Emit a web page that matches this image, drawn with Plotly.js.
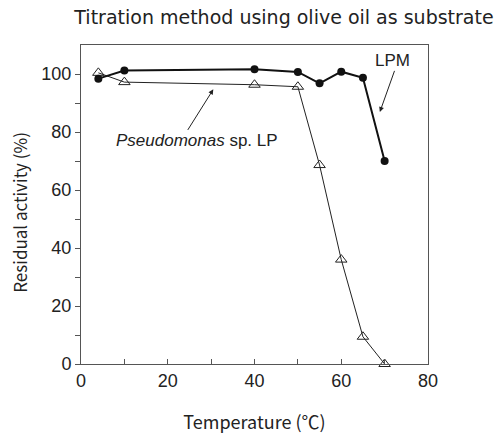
<!DOCTYPE html>
<html>
<head>
<meta charset="utf-8">
<script src="https://cdn.plot.ly/plotly-3.0.1.min.js"></script>
<style>html,body{margin:0;padding:0;background:#fff;}#chart{width:501px;height:437px;}</style>
</head>
<body>
<div id="chart"></div>
<script>
// Data
const temperature = [4, 10, 40, 50, 55, 60, 65, 70];
const lpmActivity = [98.4, 101.2, 101.6, 100.7, 96.8, 100.8, 98.7, 70.0];
const pseudomonasActivity = [100.4, 97.2, 96.3, 95.6, 68.6, 36.0, 9.4, 0.0];
const xTickVals = [0, 10, 20, 30, 40, 50, 60, 70, 80];
const xTickText = ['0', '', '20', '', '40', '', '60', '', '80'];
const yTickVals = [0, 10, 20, 30, 40, 50, 60, 70, 80, 90, 100];
const yTickText = ['0', '', '20', '', '40', '', '60', '', '80', '', '100'];

const axisColor = '#555';
const textColor = '#222';
const fontMain = '"Liberation Sans", Arial, sans-serif';
const fontTitle = '"Noto Sans CJK KR", "Liberation Sans", sans-serif';

const traces = [
  {
    x: temperature, y: pseudomonasActivity, type: 'scatter', mode: 'lines+markers',
    line: {color: '#222', width: 1},
    marker: {symbol: 'triangle-up-open', size: 10, color: '#222', line: {width: 1}},
    cliponaxis: false, showlegend: false
  },
  {
    x: temperature, y: lpmActivity, type: 'scatter', mode: 'lines+markers',
    line: {color: '#111', width: 2},
    marker: {symbol: 'circle', size: 8, color: '#111'},
    cliponaxis: false, showlegend: false
  }
];

const layout = {
  width: 501, height: 437,
  margin: {l: 81, r: 73, t: 45, b: 72.5},
  paper_bgcolor: '#fff', plot_bgcolor: '#fff',
  font: {family: fontMain, color: textColor, size: 16},
  title: {
    text: 'Titration method using olive oil as substrate',
    font: {family: '"DejaVu Sans", sans-serif', size: 19, color: textColor},
    x: 284 / 501, xanchor: 'center', xref: 'container',
    y: 1 - 17 / 437, yanchor: 'middle', yref: 'container'
  },
  xaxis: {
    range: [0, 80], tickvals: xTickVals, ticktext: xTickText,
    ticks: 'inside', ticklen: 5, tickcolor: axisColor, tickwidth: 1,
    showline: true, linecolor: axisColor, linewidth: 1, mirror: true,
    showgrid: false, zeroline: false,
    tickfont: {family: fontMain, size: 18, color: textColor},
    title: {text: 'Temperature (℃)', font: {family: fontTitle, size: 18, color: textColor}, standoff: 26}
  },
  yaxis: {
    range: [0, 110], tickvals: yTickVals, ticktext: yTickText,
    ticks: 'outside', ticklen: 5, tickcolor: axisColor, tickwidth: 1,
    showline: true, linecolor: axisColor, linewidth: 1, mirror: true,
    showgrid: false, zeroline: false,
    tickfont: {family: fontMain, size: 18, color: textColor}
  },
  annotations: [
    {
      text: 'Residual activity (%)', textangle: -90,
      xref: 'paper', yref: 'paper', x: (20 - 81) / 347, y: (364.5 - 213) / 319.5,
      xanchor: 'center', yanchor: 'middle', showarrow: false,
      font: {family: fontTitle, size: 17, color: textColor}
    },
    {
      text: 'LPM', xref: 'x', yref: 'y', x: 71.8, y: 104.6,
      xanchor: 'center', yanchor: 'middle', showarrow: false,
      font: {family: fontMain, size: 17, color: textColor}
    },
    {
      text: '', xref: 'x', yref: 'y', x: 68.9, y: 86.9,
      axref: 'x', ayref: 'y', ax: 72.4, ay: 101.6,
      showarrow: true, arrowhead: 2, arrowsize: 1, arrowwidth: 1, arrowcolor: '#222'
    },
    {
      text: '<i>Pseudomonas</i> sp. LP', xref: 'x', yref: 'y', x: 26.7, y: 77.0,
      xanchor: 'center', yanchor: 'middle', showarrow: false,
      font: {family: fontMain, size: 17, color: textColor}
    },
    {
      text: '', xref: 'x', yref: 'y', x: 30.5, y: 94.7,
      axref: 'x', ayref: 'y', ax: 24.4, ay: 80.2,
      showarrow: true, arrowhead: 2, arrowsize: 1, arrowwidth: 1, arrowcolor: '#222'
    }
  ]
};

Plotly.newPlot('chart', traces, layout, {displayModeBar: false, staticPlot: true});
</script>
</body>
</html>
